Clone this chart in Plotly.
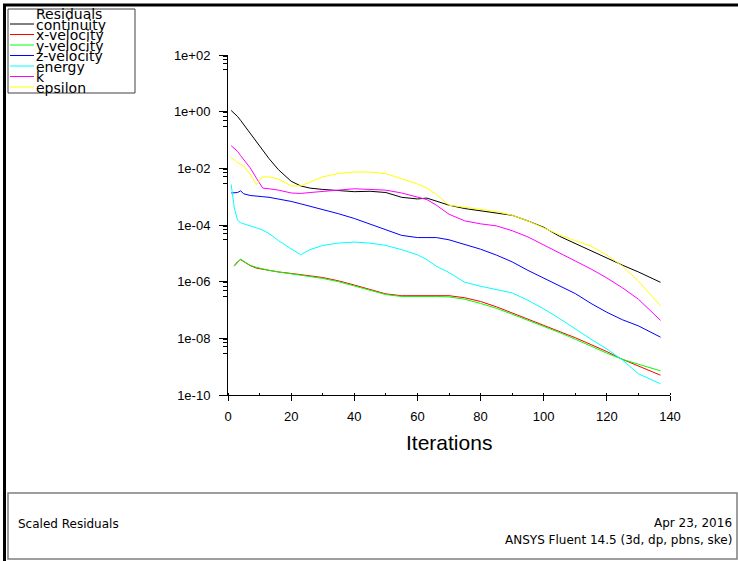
import plotly.graph_objects as go

# residual history
iterations = [1, 2, 3, 4, 5, 7, 9, 11, 13, 16, 20, 23, 26, 30, 35, 40, 45, 50,
              55, 60, 63, 66, 70, 75, 80, 85, 90, 95, 100, 105, 110, 115, 120,
              125, 130, 137]

continuity = [1.1e+00, 8.9e-01, 6.8e-01, 4.9e-01, 3.5e-01, 1.8e-01, 8.9e-02,
              4.5e-02, 2.2e-02, 8.9e-03, 3.5e-03, 2.4e-03, 2.0e-03, 1.8e-03,
              1.6e-03, 1.5e-03, 1.55e-03, 1.4e-03, 9.5e-04, 8.3e-04, 8.9e-04,
              7.1e-04, 5.0e-04, 3.8e-04, 3.2e-04, 2.75e-04, 2.2e-04, 1.4e-04,
              8.3e-05, 4.0e-05, 2.2e-05, 1.2e-05, 6.8e-06, 3.8e-06, 2.2e-06,
              9.5e-07]

x_velocity = [None, 3.7e-06, 5.0e-06, 6.0e-06, 5.0e-06, 3.7e-06, 3.0e-06,
              2.7e-06, 2.45e-06, 2.2e-06, 1.95e-06, 1.8e-06, 1.6e-06, 1.4e-06,
              1.07e-06, 7.6e-07, 5.2e-07, 3.7e-07, 3.2e-07, 3.2e-07, 3.25e-07,
              3.25e-07, 3.2e-07, 2.7e-07, 2.0e-07, 1.3e-07, 7.9e-08, 4.8e-08,
              2.95e-08, 1.8e-08, 1.05e-08, 6.0e-09, 3.4e-09, 1.8e-09, 1.05e-09,
              5.0e-10]

y_velocity = [None, 3.5e-06, 4.8e-06, 6.3e-06, 5.2e-06, 3.8e-06, 3.2e-06,
              2.75e-06, 2.5e-06, 2.2e-06, 1.9e-06, 1.7e-06, 1.5e-06, 1.3e-06,
              1.0e-06, 6.9e-07, 4.8e-07, 3.5e-07, 3.0e-07, 3.0e-07, 3.1e-07,
              3.0e-07, 2.9e-07, 2.4e-07, 1.7e-07, 1.15e-07, 7.1e-08, 4.4e-08,
              2.7e-08, 1.6e-08, 9.3e-09, 5.2e-09, 3.0e-09, 1.8e-09, 1.2e-09,
              7.1e-10]

z_velocity = [1.35e-03, 1.35e-03, 1.4e-03, 1.6e-03, 1.26e-03, 1.1e-03, 1.07e-03,
              1.0e-03, 9.5e-04, 8.3e-04, 6.8e-04, 5.6e-04, 4.6e-04, 3.5e-04,
              2.5e-04, 1.7e-04, 1.1e-04, 6.8e-05, 4.3e-05, 3.6e-05, 3.6e-05,
              3.6e-05, 3.0e-05, 2.1e-05, 1.4e-05, 8.7e-06, 5.0e-06, 2.5e-06,
              1.35e-06, 7.1e-07, 3.8e-07, 1.7e-07, 8.3e-08, 4.5e-08, 2.75e-08,
              1.1e-08]

energy = [2.7e-03, 4.0e-04, 1.5e-04, 1.2e-04, 1.1e-04, 9.5e-05, 7.9e-05,
          6.6e-05, 5.0e-05, 2.8e-05, 1.5e-05, 8.9e-06, 1.35e-05, 1.9e-05,
          2.3e-05, 2.5e-05, 2.3e-05, 1.9e-05, 1.35e-05, 8.9e-06, 6.0e-06,
          3.5e-06, 2.1e-06, 9.5e-07, 6.9e-07, 5.4e-07, 4.0e-07, 2.2e-07,
          1.1e-07, 5.0e-08, 2.1e-08, 9.3e-09, 4.2e-09, 1.7e-09, 5.6e-10,
          2.5e-10]

k = [6.3e-02, 5.0e-02, 4.0e-02, 2.8e-02, 2.0e-02, 1.05e-02, 4.5e-03, 2.0e-03,
     1.9e-03, 1.7e-03, 1.35e-03, 1.3e-03, 1.4e-03, 1.55e-03, 1.7e-03, 1.9e-03,
     1.8e-03, 1.7e-03, 1.35e-03, 9.5e-04, 7.9e-04, 5.0e-04, 2.4e-04, 1.4e-04,
     1.1e-04, 9.3e-05, 6.3e-05, 3.8e-05, 2.0e-05, 1.07e-05, 5.6e-06, 2.8e-06,
     1.35e-06, 6.0e-07, 2.4e-07, 4.3e-08]

epsilon = [2.4e-02, 1.9e-02, 1.6e-02, 1.4e-02, 1.2e-02, 6.3e-03, 2.7e-03,
           5.0e-03, 5.0e-03, 4.2e-03, 2.4e-03, 2.4e-03, 3.2e-03, 5.0e-03,
           6.6e-03, 7.4e-03, 7.4e-03, 6.5e-03, 4.3e-03, 2.8e-03, 2.0e-03,
           1.2e-03, 5.0e-04, 4.3e-04, 3.6e-04, 3.0e-04, 2.2e-04, 1.4e-04,
           7.9e-05, 4.5e-05, 2.8e-05, 1.8e-05, 8.7e-06, 3.5e-06, 1.05e-06,
           1.4e-07]

names = ["continuity", "x-velocity", "y-velocity", "z-velocity", "energy", "k", "epsilon"]
colors = ["#000000", "#ff0000", "#00ff00", "#0000ff", "#00ffff", "#ff00ff", "#ffff00"]
series = [continuity, x_velocity, y_velocity, z_velocity, energy, k, epsilon]

y_major = [1e2, 1e0, 1e-2, 1e-4, 1e-6, 1e-8, 1e-10]
y_labels = ["1e+02", "1e+00", "1e-02", "1e-04", "1e-06", "1e-08", "1e-10"]
x_major = [0, 20, 40, 60, 80, 100, 120, 140]

# pixel box of the plot area
L, R, T, B = 228, 670, 55, 395


def px(x):
    return (x - L) / (R - L)


def py(y):
    return (B - y) / (B - T)


fig = go.Figure()
for name, vals, color in zip(names, series, colors):
    fig.add_trace(go.Scatter(x=iterations, y=vals, mode="lines", name=name,
                             line=dict(color=color, width=1), showlegend=False))

y_minor = [m * f for m in y_major[:-1] for f in (0.9, 0.7, 0.5, 0.3)]

font = "Liberation Sans, Arial, sans-serif"
wide = "DejaVu Sans, Verdana, sans-serif"

fig.update_layout(
    width=738, height=561,
    margin=dict(l=L, r=738 - R, t=T, b=561 - B),
    paper_bgcolor="white", plot_bgcolor="white",
    font=dict(family=wide, color="black", size=11),
    xaxis=dict(range=[0, 140], tickvals=x_major, ticks="outside", ticklen=5,
               tickcolor="black", showline=True, linecolor="black", linewidth=1,
               showgrid=False, zeroline=False, ticklabelstandoff=4,
               tickfont=dict(family=font, size=13),
               minor=dict(tickmode="linear", tick0=0, dtick=10, ticks="inside",
                          ticklen=2, tickcolor="black")),
    yaxis=dict(type="log", range=[-10, 2], tickvals=y_major, ticktext=y_labels,
               ticks="outside", ticklen=8, tickcolor="black", showline=True,
               linecolor="black", linewidth=1, showgrid=False, zeroline=False,
               ticklabelstandoff=6, tickfont=dict(family=font, size=13),
               minor=dict(tickmode="array", tickvals=y_minor, ticks="outside",
                          ticklen=4, tickcolor="black")),
)

# x axis title
fig.add_annotation(xref="paper", yref="paper", x=px(449), y=py(442),
                   text="Iterations", showarrow=False, xanchor="center",
                   yanchor="middle", font=dict(family=font, size=21))

# window frame
fig.add_shape(type="line", xref="paper", yref="paper", x0=px(4.5), x1=px(4.5),
              y0=py(4), y1=py(561), line=dict(color="black", width=3))
fig.add_shape(type="line", xref="paper", yref="paper", x0=px(3), x1=px(738),
              y0=py(5), y1=py(5), line=dict(color="black", width=3))

# legend box
fig.add_shape(type="rect", xref="paper", yref="paper", x0=px(8), x1=px(135),
              y0=py(9), y1=py(93), line=dict(color="#404040", width=1))
fig.add_annotation(xref="paper", yref="paper", x=px(34), y=py(14.5),
                   text="Residuals", showarrow=False, xanchor="left",
                   yanchor="middle", font=dict(size=14))
for i, (name, color) in enumerate(zip(names, colors)):
    ly = 24 + i * 10.5
    fig.add_shape(type="line", xref="paper", yref="paper", x0=px(10), x1=px(34),
                  y0=py(ly), y1=py(ly), line=dict(color=color, width=1))
    fig.add_annotation(xref="paper", yref="paper", x=px(34), y=py(ly + 0.5),
                       text=name, showarrow=False, xanchor="left",
                       yanchor="middle", font=dict(size=14))

# bottom info panel
fig.add_shape(type="rect", xref="paper", yref="paper", x0=px(8), x1=px(737),
              y0=py(493), y1=py(559), line=dict(color="#7f7f7f", width=1.5))
fig.add_annotation(xref="paper", yref="paper", x=px(16), y=py(524),
                   text="Scaled Residuals", showarrow=False, xanchor="left",
                   yanchor="middle", font=dict(size=12))
fig.add_annotation(xref="paper", yref="paper", x=px(734), y=py(523),
                   text="Apr 23, 2016", showarrow=False, xanchor="right",
                   yanchor="middle", font=dict(size=12))
fig.add_annotation(xref="paper", yref="paper", x=px(734), y=py(540),
                   text="ANSYS Fluent 14.5 (3d, dp, pbns, ske)", showarrow=False,
                   xanchor="right", yanchor="middle", font=dict(size=12))

fig.write_html("out.html", config={"displayModeBar": False},
               post_script="document.body.style.margin='0';")
